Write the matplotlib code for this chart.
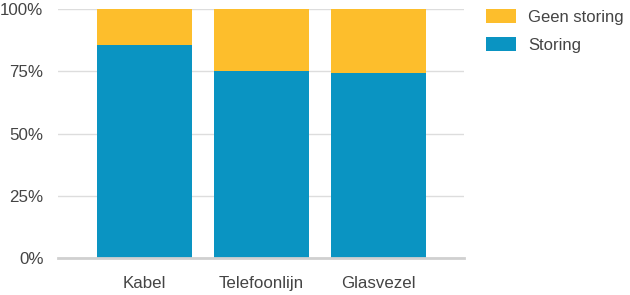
import matplotlib.pyplot as plt
from matplotlib.ticker import PercentFormatter

plt.rcParams['font.family'] = ['Liberation Sans', 'DejaVu Sans']

categories = ['Kabel', 'Telefoonlijn', 'Glasvezel']
storing = [85.5, 75.0, 74.5]
geen_storing = [100 - v for v in storing]

blue = '#0A94C2'
orange = '#FDBE2C'
text_col = '#444444'

fig = plt.figure(figsize=(6.3, 2.95), dpi=100)
ax = fig.add_axes([0.092, 0.125, 0.645, 0.844])

x = range(len(categories))
b1 = ax.bar(x, storing, width=0.81, color=blue, label='Storing', zorder=2)
b2 = ax.bar(x, geen_storing, width=0.81, bottom=storing, color=orange,
            label='Geen storing', zorder=2)

ax.set_xlim(-0.737, 2.73)
ax.set_ylim(0, 100)
ax.set_yticks([0, 25, 50, 75, 100])
ax.yaxis.set_major_formatter(PercentFormatter(decimals=0))
ax.grid(axis='y', color='#dddddd', linewidth=1, zorder=0)
ax.axhline(0, color='#d0d0d0', linewidth=2, zorder=3, clip_on=False)
for s in ax.spines.values():
    s.set_visible(False)
ax.tick_params(length=0, labelsize=12.2, colors=text_col)
ax.tick_params(axis='x', pad=13)
ax.tick_params(axis='y', pad=10.5)
ax.set_xticks(list(x))
ax.set_xticklabels(categories)

fig.legend([b2, b1], ['Geen storing', 'Storing'], loc='upper left',
           bbox_to_anchor=(0.747, 1.02), frameon=False, fontsize=12,
           handlelength=1.85, handleheight=0.88, handletextpad=0.7,
           labelspacing=0.75, labelcolor=text_col)

fig.savefig('out.png', dpi=100)
